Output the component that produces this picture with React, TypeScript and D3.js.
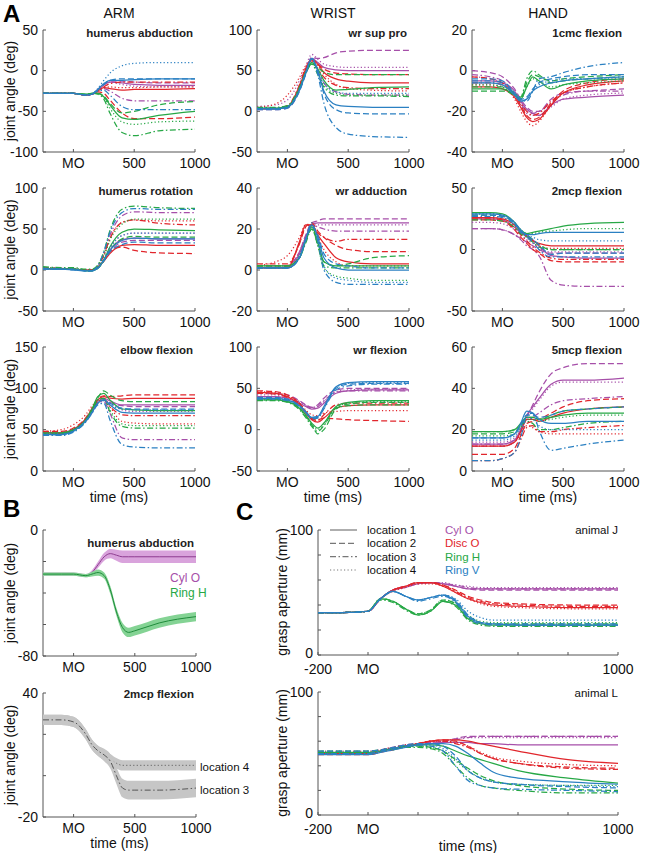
import React from "react";
import * as d3 from "d3";

const W = 648;
const H = 853;
const FONT = "'Liberation Sans', Arial, Helvetica, sans-serif";

// ---------- categories / styles ----------
const OBJECTS = ["Cyl O", "Disc O", "Ring H", "Ring V"];
const OBJ_COLORS = ["#a64fa9", "#e1262c", "#27a846", "#2b80c2"];
const LOCATIONS = ["location 1", "location 2", "location 3", "location 4"];
const LOC_DASH = ["", "6,3", "6,2.5,1.5,2.5", "1.2,2.3"];

// ---------- panel A data (16 traces: object x location) ----------
const T_A = [-250, -100, 0, 100, 150, 200, 250, 300, 400, 500, 700, 1000];

const HUM_ABD = [
  [-28, -28, -28, -30, -29, -24, -18, -14, -15, -17, -18, -18],
  [-28, -28, -28, -30, -29, -23, -17, -13, -13, -14, -15, -15],
  [-28, -28, -28, -30, -29, -25, -22, -25, -34, -37, -37, -37],
  [-28, -28, -28, -30, -29, -23, -17, -14, -17, -19, -20, -20],
  [-28, -28, -28, -30, -29, -25, -21, -22, -24, -23, -23, -22],
  [-28, -28, -28, -30, -29, -26, -28, -36, -52, -59, -59, -57],
  [-28, -28, -28, -30, -29, -25, -20, -16, -14, -14, -14, -14],
  [-28, -28, -28, -30, -29, -25, -21, -20, -21, -21, -20, -20],
  [-28, -28, -28, -29, -28, -28, -32, -42, -58, -60, -55, -50],
  [-28, -28, -28, -29, -28, -28, -31, -40, -52, -50, -42, -38],
  [-28, -28, -28, -29, -28, -29, -35, -52, -76, -80, -74, -72],
  [-28, -28, -28, -29, -28, -28, -33, -46, -63, -66, -63, -62],
  [-28, -28, -28, -30, -29, -23, -16, -12, -12, -11, -10, -10],
  [-28, -28, -28, -30, -29, -24, -17, -12, -10, -10, -10, -10],
  [-28, -28, -28, -30, -29, -25, -24, -30, -44, -48, -48, -48],
  [-28, -28, -28, -30, -29, -22, -12, -3, 6, 9, 10, 10],
];

const WR_SUP = [
  [3, 3, 5, 28, 48, 65, 60, 54, 51, 50, 50, 50],
  [2, 2, 4, 26, 47, 66, 65, 66, 72, 74, 75, 75],
  [4, 4, 6, 30, 50, 66, 50, 35, 24, 21, 20, 20],
  [6, 8, 14, 38, 55, 70, 64, 58, 55, 54, 54, 54],
  [3, 3, 5, 30, 52, 64, 58, 48, 40, 37, 35, 35],
  [3, 3, 6, 32, 52, 62, 58, 52, 47, 46, 45, 45],
  [4, 4, 7, 33, 53, 62, 52, 42, 32, 29, 28, 28],
  [5, 9, 20, 42, 56, 63, 56, 46, 33, 28, 26, 25],
  [4, 4, 6, 28, 48, 60, 52, 38, 26, 27, 29, 30],
  [3, 3, 5, 27, 46, 58, 54, 48, 45, 45, 45, 45],
  [5, 5, 7, 30, 48, 58, 45, 30, 20, 19, 19, 18],
  [4, 4, 6, 28, 47, 60, 48, 32, 22, 20, 20, 20],
  [3, 3, 5, 26, 46, 65, 50, 25, 8, 6, 5, 5],
  [2, 2, 4, 25, 45, 64, 48, 22, 2, -2, -3, -3],
  [3, 3, 5, 27, 47, 66, 45, 10, -20, -28, -31, -32],
  [4, 4, 6, 28, 48, 64, 52, 35, 24, 22, 22, 22],
];

const CMC1 = [
  [-5, -5, -6, -10, -15, -19, -21, -22, -17, -14, -13, -12],
  [0, -1, -3, -9, -14, -18, -20, -20, -14, -11, -10, -9],
  [-2, -3, -5, -11, -16, -20, -21, -20, -16, -12, -10, -10],
  [-3, -4, -6, -12, -17, -21, -22, -22, -18, -14, -12, -11],
  [-8, -8, -9, -13, -18, -23, -25, -24, -17, -11, -7, -5],
  [-3, -4, -6, -12, -17, -22, -24, -23, -16, -10, -6, -4],
  [-6, -6, -7, -12, -16, -20, -22, -21, -15, -11, -8, -6],
  [-7, -7, -8, -14, -20, -25, -27, -25, -17, -11, -8, -6],
  [-9, -9, -9, -12, -14, -8, -3, -5, -9, -7, -5, -4],
  [-10, -10, -10, -12, -14, -6, -2, -3, -5, -4, -3, -2],
  [-8, -8, -8, -11, -13, -4, 0, -2, -6, -5, -4, -3],
  [-7, -7, -8, -12, -14, -8, -4, -5, -8, -7, -6, -5],
  [-6, -6, -7, -12, -15, -14, -10, -8, -6, -5, -4, -3],
  [-4, -4, -5, -11, -14, -13, -9, -6, -4, -3, -2, -2],
  [-5, -5, -6, -11, -14, -15, -10, -4, -3, -1, 2, 4],
  [-6, -6, -7, -12, -15, -14, -10, -7, -5, -4, -4, -4],
];

const HUM_ROT = [
  [2, 1, 1, 0, 0, 3, 12, 24, 37, 39, 38, 38],
  [3, 2, 1, 0, 0, 3, 11, 22, 34, 36, 36, 36],
  [3, 2, 1, 0, 0, 5, 20, 42, 66, 71, 70, 70],
  [2, 1, 1, 0, 0, 3, 13, 27, 42, 45, 45, 45],
  [2, 1, 1, 0, 0, 3, 11, 20, 30, 31, 30, 30],
  [2, 1, 1, 0, 0, 3, 11, 22, 28, 24, 21, 20],
  [2, 1, 1, 0, 0, 4, 18, 38, 58, 61, 57, 55],
  [3, 2, 1, 0, 0, 4, 18, 38, 58, 61, 60, 60],
  [2, 1, 1, -1, -1, 2, 12, 28, 46, 50, 49, 48],
  [2, 1, 1, -1, -1, 2, 11, 24, 38, 41, 40, 40],
  [4, 3, 3, 1, 1, 6, 22, 48, 74, 78, 76, 75],
  [3, 2, 2, 0, 0, 4, 16, 36, 56, 62, 62, 62],
  [1, 1, 0, -1, -1, 2, 12, 24, 36, 39, 38, 38],
  [1, 1, 0, -1, -1, 2, 11, 22, 31, 34, 33, 33],
  [2, 1, 1, -1, -1, 5, 22, 46, 70, 75, 74, 74],
  [2, 1, 1, -1, -1, 3, 13, 27, 42, 45, 45, 45],
];

const WR_ADD = [
  [1, 1, 1, 8, 16, 22, 23, 23, 23, 23, 23, 23],
  [1, 1, 2, 9, 17, 23, 24, 25, 25, 25, 25, 25],
  [2, 2, 2, 9, 16, 22, 21, 20, 19, 19, 19, 19],
  [1, 1, 1, 8, 16, 22, 22, 22, 22, 22, 22, 22],
  [1, 1, 1, 14, 22, 22, 17, 13, 6, 4, 3, 3],
  [2, 2, 2, 13, 21, 23, 19, 16, 12, 10, 9, 9],
  [3, 3, 3, 13, 21, 22, 18, 16, 14, 15, 15, 15],
  [2, 4, 7, 16, 22, 22, 16, 10, 4, 2, 2, 2],
  [2, 2, 2, 6, 14, 21, 14, 4, 2, 2, 2, 2],
  [2, 2, 2, 6, 14, 20, 13, 4, 2, 3, 6, 7],
  [1, 1, 1, 6, 13, 20, 12, 2, 1, 1, 1, 1],
  [2, 2, 2, 7, 15, 21, 12, 1, -3, -4, -5, -5],
  [1, 1, 1, 6, 15, 22, 16, 6, 1, 0, 0, 0],
  [1, 1, 1, 6, 14, 21, 17, 8, 3, 2, 1, 1],
  [1, 1, 1, 6, 15, 23, 14, 0, -6, -7, -7, -7],
  [1, 1, 1, 7, 15, 22, 14, 2, -4, -5, -6, -6],
];

const MCP2 = [
  [25, 25, 24, 18, 14, 11, 8, 3, -5, -6, -7, -7],
  [17, 17, 16, 12, 9, 6, 3, 0, -3, -3, -3, -3],
  [17, 17, 16, 12, 8, 3, 0, -5, -25, -29, -30, -30],
  [22, 22, 21, 16, 12, 8, 5, 1, -2, -2, -2, -2],
  [26, 26, 25, 20, 15, 11, 7, 5, 3, 3, 3, 3],
  [24, 24, 23, 16, 10, 5, 0, -3, -9, -10, -10, -10],
  [25, 25, 24, 17, 12, 7, 2, -2, -7, -8, -8, -8],
  [26, 26, 25, 19, 14, 10, 6, 3, 1, 1, 1, 1],
  [30, 30, 29, 22, 16, 13, 14, 15, 17, 19, 21, 22],
  [28, 28, 27, 21, 15, 12, 8, 4, 0, 0, 0, 0],
  [24, 24, 23, 18, 13, 10, 6, 2, 0, 0, 0, 0],
  [29, 29, 28, 22, 16, 13, 13, 14, 15, 16, 17, 17],
  [29, 29, 28, 22, 16, 12, 12, 13, 14, 14, 14, 14],
  [28, 28, 27, 21, 15, 11, 8, 4, -4, -3, -3, -3],
  [27, 27, 26, 20, 14, 10, 6, 0, -6, -6, -6, -6],
  [29, 29, 28, 22, 16, 12, 10, 8, 7, 7, 7, 7],
];

const ELBOW = [
  [46, 46, 50, 62, 72, 84, 88, 85, 80, 80, 80, 80],
  [45, 45, 49, 60, 70, 82, 86, 83, 79, 78, 78, 78],
  [46, 46, 50, 62, 72, 83, 84, 70, 40, 38, 38, 38],
  [47, 47, 51, 62, 72, 83, 86, 82, 74, 72, 72, 72],
  [46, 46, 50, 63, 74, 86, 90, 88, 87, 88, 88, 88],
  [48, 48, 52, 64, 75, 87, 91, 90, 91, 92, 92, 92],
  [45, 45, 49, 61, 72, 84, 86, 78, 68, 67, 67, 67],
  [48, 50, 56, 68, 78, 86, 88, 78, 60, 58, 57, 57],
  [46, 46, 50, 62, 74, 90, 94, 86, 75, 74, 73, 73],
  [45, 45, 49, 61, 73, 88, 97, 92, 85, 84, 84, 84],
  [44, 44, 48, 60, 72, 86, 88, 72, 54, 52, 52, 52],
  [45, 45, 49, 61, 72, 86, 88, 74, 57, 55, 55, 55],
  [44, 44, 48, 60, 70, 82, 86, 80, 71, 70, 70, 70],
  [44, 44, 48, 60, 70, 82, 86, 82, 76, 75, 75, 75],
  [43, 43, 47, 59, 69, 80, 82, 62, 32, 29, 28, 28],
  [45, 45, 49, 61, 71, 82, 85, 80, 75, 74, 74, 74],
];

const WR_FLX = [
  [40, 40, 38, 32, 28, 25, 26, 32, 44, 47, 48, 48],
  [44, 44, 42, 35, 30, 27, 30, 38, 48, 50, 50, 50],
  [40, 40, 38, 33, 29, 26, 28, 35, 45, 47, 47, 47],
  [42, 42, 40, 34, 30, 27, 28, 34, 46, 48, 49, 49],
  [45, 44, 40, 30, 20, 12, 9, 14, 26, 29, 30, 30],
  [47, 46, 42, 32, 22, 14, 12, 14, 13, 12, 11, 10],
  [44, 43, 39, 30, 21, 13, 11, 18, 30, 32, 32, 32],
  [46, 45, 41, 32, 24, 18, 17, 20, 22, 23, 23, 23],
  [36, 36, 34, 26, 18, 8, 2, 8, 28, 33, 35, 35],
  [37, 37, 35, 26, 17, 6, -5, 0, 25, 31, 33, 33],
  [35, 35, 33, 24, 15, 4, -2, 5, 26, 29, 30, 30],
  [36, 36, 34, 25, 16, 6, 0, 6, 27, 32, 34, 34],
  [38, 38, 36, 29, 22, 15, 16, 28, 52, 57, 58, 58],
  [39, 39, 37, 29, 22, 14, 15, 26, 50, 55, 56, 56],
  [37, 37, 35, 28, 21, 13, 14, 25, 48, 53, 55, 55],
  [38, 38, 36, 28, 21, 14, 15, 27, 51, 56, 57, 57],
];

const MCP5 = [
  [13, 13, 13, 15, 20, 27, 31, 35, 42, 44, 44, 45],
  [12, 12, 12, 14, 19, 26, 32, 38, 47, 50, 52, 52],
  [13, 13, 13, 15, 19, 25, 26, 28, 32, 34, 35, 36],
  [14, 14, 14, 16, 20, 26, 30, 34, 41, 43, 43, 43],
  [12, 12, 12, 14, 19, 25, 25, 24, 26, 28, 30, 31],
  [8, 8, 8, 11, 17, 23, 24, 25, 28, 31, 34, 35],
  [5, 5, 6, 9, 15, 21, 22, 19, 19, 20, 21, 22],
  [12, 12, 12, 14, 18, 22, 21, 19, 18, 18, 18, 18],
  [19, 19, 19, 20, 23, 26, 26, 25, 26, 27, 28, 28],
  [18, 18, 18, 19, 22, 26, 26, 25, 27, 29, 30, 31],
  [19, 19, 19, 20, 22, 24, 23, 20, 20, 21, 23, 24],
  [17, 17, 17, 18, 21, 25, 25, 24, 25, 26, 27, 27],
  [16, 16, 16, 18, 23, 29, 28, 25, 23, 23, 24, 24],
  [16, 16, 16, 18, 22, 27, 27, 26, 27, 29, 30, 31],
  [5, 5, 6, 9, 16, 27, 28, 20, 10, 11, 13, 15],
  [15, 15, 15, 17, 21, 26, 25, 22, 20, 20, 20, 20],
];

const A_TITLES = [
  ["humerus abduction", "wr sup pro", "1cmc flexion"],
  ["humerus rotation", "wr adduction", "2mcp flexion"],
  ["elbow flexion", "wr flexion", "5mcp flexion"],
];
const A_DATA = [
  [HUM_ABD, WR_SUP, CMC1],
  [HUM_ROT, WR_ADD, MCP2],
  [ELBOW, WR_FLX, MCP5],
];
const A_DOMAINS = [
  [[-100, 50], [-50, 100], [-40, 20]],
  [[-50, 100], [-20, 40], [-50, 50]],
  [[0, 150], [-50, 100], [0, 60]],
];
const A_YTICKS = [
  [[-100, -50, 0, 50], [-50, 0, 50, 100], [-40, -20, 0, 20]],
  [[-50, 0, 50, 100], [-20, 0, 20, 40], [-50, 0, 50]],
  [[0, 50, 100, 150], [-50, 0, 50, 100], [0, 20, 40, 60]],
];
const A_COLUMNS = ["ARM", "WRIST", "HAND"];
const A_XTICKS = [0, 500, 1000];

// ---------- panel B data (mean +/- band) ----------
const T_B = [-250, -100, 0, 100, 150, 200, 250, 300, 350, 400, 450, 500, 700, 1000];
const B1_CYL_MEAN = [-28, -28, -28, -29, -27, -22, -17, -15, -16, -17, -17, -17, -17, -17];
const B1_CYL_HW = [1, 1, 1, 1, 1.5, 2, 2.5, 3, 3.5, 4, 4, 4, 4, 4];
const B1_RING_MEAN = [-28, -28, -28, -29, -28, -27, -29, -38, -52, -62, -65, -64, -59, -55];
const B1_RING_HW = [1, 1, 1, 1, 1.5, 2, 2, 2.5, 2.5, 3, 3, 3, 3, 3];
const B2_LOC4_MEAN = [27, 27, 26, 20, 15, 12, 10, 8, 6, 5, 5, 5, 5, 5];
const B2_LOC4_HW = [2.5, 2.5, 2.5, 2.5, 2.5, 2.5, 2.5, 2.5, 2.5, 2.5, 2.5, 2.5, 2.5, 2.5];
const B2_LOC3_MEAN = [27, 27, 26, 20, 15, 12, 10, 7, 0, -6, -7, -7, -7, -6];
const B2_LOC3_HW = [2.5, 2.5, 2.5, 2.5, 2.5, 2.5, 3, 3.5, 4, 4.5, 4.5, 4.5, 4.5, 4.5];

// ---------- panel C data (grasp aperture) ----------
const T_C = [-200, -100, 0, 50, 100, 150, 200, 250, 300, 350, 400, 450, 500, 600, 800, 1000];
const APERTURE_J = [
  [34, 34, 35, 45, 52, 54, 57, 58, 57, 55, 53, 53, 53, 53, 53, 53],
  [34, 34, 35, 45, 52, 55, 57, 58, 57, 55, 53, 52, 52, 52, 52, 52],
  [34, 34, 35, 45, 52, 54, 57, 58, 57, 56, 54, 53, 53, 53, 53, 53],
  [34, 34, 35, 45, 52, 55, 58, 58, 58, 56, 55, 54, 54, 54, 54, 54],
  [34, 34, 35, 45, 52, 55, 58, 58, 55, 50, 45, 42, 40, 39, 38, 38],
  [34, 34, 35, 45, 52, 55, 58, 58, 56, 52, 47, 44, 42, 41, 40, 40],
  [34, 34, 35, 45, 52, 55, 58, 58, 56, 51, 46, 43, 41, 40, 39, 39],
  [34, 34, 35, 45, 51, 54, 57, 57, 55, 50, 45, 41, 39, 38, 37, 37],
  [34, 34, 35, 45, 43, 37, 32, 35, 43, 40, 29, 25, 24, 24, 24, 24],
  [34, 34, 35, 45, 43, 37, 33, 36, 44, 41, 30, 26, 25, 25, 25, 25],
  [34, 34, 35, 44, 42, 36, 32, 35, 43, 39, 28, 24, 23, 23, 23, 23],
  [34, 34, 35, 45, 43, 37, 33, 36, 44, 42, 32, 27, 26, 26, 26, 26],
  [34, 34, 35, 45, 51, 47, 44, 46, 48, 43, 31, 26, 25, 24, 24, 24],
  [34, 34, 35, 45, 51, 47, 44, 46, 48, 44, 32, 26, 24, 24, 24, 24],
  [34, 34, 35, 45, 51, 47, 43, 45, 47, 42, 30, 25, 25, 25, 25, 25],
  [34, 34, 35, 45, 51, 47, 44, 46, 48, 45, 35, 30, 28, 28, 28, 28],
];
const APERTURE_L = [
  [50, 50, 50, 52, 54, 56, 57, 58, 59, 59, 59, 58, 58, 57, 57, 57],
  [51, 51, 51, 53, 55, 57, 58, 59, 60, 62, 64, 64, 64, 64, 64, 64],
  [50, 50, 50, 52, 54, 56, 57, 58, 59, 61, 63, 64, 64, 64, 64, 64],
  [52, 52, 52, 53, 55, 57, 58, 59, 60, 62, 63, 63, 63, 63, 63, 63],
  [50, 50, 50, 52, 54, 56, 58, 60, 61, 61, 60, 58, 56, 52, 45, 42],
  [49, 49, 49, 51, 53, 56, 58, 60, 61, 60, 56, 50, 46, 42, 39, 38],
  [50, 50, 50, 52, 54, 56, 58, 60, 60, 58, 55, 50, 46, 42, 38, 37],
  [51, 51, 51, 53, 55, 57, 58, 60, 60, 59, 56, 51, 47, 44, 41, 40],
  [51, 51, 51, 52, 54, 56, 57, 57, 56, 52, 48, 45, 42, 36, 30, 26],
  [52, 52, 52, 53, 54, 56, 56, 55, 52, 45, 38, 32, 28, 24, 21, 20],
  [50, 50, 50, 52, 53, 55, 55, 54, 50, 40, 30, 24, 22, 20, 18, 18],
  [51, 51, 51, 52, 54, 55, 56, 55, 52, 44, 36, 30, 27, 25, 24, 24],
  [49, 49, 49, 51, 53, 55, 57, 58, 58, 56, 50, 42, 35, 30, 27, 25],
  [52, 52, 52, 53, 55, 57, 58, 58, 56, 48, 36, 30, 27, 25, 23, 22],
  [50, 50, 50, 52, 54, 56, 57, 56, 52, 40, 28, 24, 22, 21, 20, 19],
  [50, 50, 50, 52, 54, 56, 57, 57, 54, 46, 36, 30, 27, 25, 24, 23],
];
const C_XTICKS = [-200, 0, 200, 400, 600, 800, 1000];
const C_XLABELED = [-200, 0, 1000];
const C_YTICKS = [0, 20, 40, 60, 80, 100];

// ---------- helpers ----------
const AX = "#555";
const fmtX = (v: number) => (v === 0 ? "MO" : String(v));

type Scale = d3.ScaleLinear<number, number>;

function Axes(props: {
  xs: Scale;
  ys: Scale;
  xTicks: number[];
  xLabeled: number[];
  yTicks: number[];
  yLabeled: number[];
  xDy?: number;
  yDy?: number;
}) {
  const { xs, ys, xTicks, xLabeled, yTicks, yLabeled, xDy = 16, yDy = 4.5 } = props;
  const [x0, x1] = xs.range();
  const [yb, yt] = ys.range();
  return (
    <g>
      <line x1={x0} y1={yt} x2={x0} y2={yb} stroke={AX} strokeWidth={1} />
      <line x1={x0} y1={yb} x2={x1} y2={yb} stroke={AX} strokeWidth={1} />
      {yTicks.map((v) => (
        <g key={"y" + v}>
          <line x1={x0} x2={x0 + 3} y1={ys(v)} y2={ys(v)} stroke={AX} />
          {yLabeled.includes(v) && (
            <text x={x0 - 5} y={ys(v) + (v === yTicks[0] ? yDy : 4.5)} textAnchor="end" fontSize={14} fill="#111">
              {String(v)}
            </text>
          )}
        </g>
      ))}
      {xTicks.map((v) => (
        <g key={"x" + v}>
          <line x1={xs(v)} x2={xs(v)} y1={yb} y2={yb - 3} stroke={AX} />
          {xLabeled.includes(v) && (
            <text x={xs(v)} y={yb + xDy} textAnchor="middle" fontSize={14} fill="#111">
              {fmtX(v)}
            </text>
          )}
        </g>
      ))}
    </g>
  );
}

function Trace({ t, v, xs, ys, color, dash, width = 1.25 }: any) {
  const gen = d3
    .line<number>()
    .x((_, i) => xs(t[i]))
    .y((d) => ys(d))
    .curve(d3.curveMonotoneX);
  return (
    <path
      d={gen(v) || ""}
      fill="none"
      stroke={color}
      strokeWidth={width}
      strokeDasharray={dash || undefined}
      strokeLinejoin="round"
    />
  );
}

function Band({ t, mean, hw, xs, ys, fill, stroke, dash }: any) {
  const area = d3
    .area<number>()
    .x((_, i) => xs(t[i]))
    .y0((d, i) => ys(d - hw[i]))
    .y1((d, i) => ys(d + hw[i]))
    .curve(d3.curveMonotoneX);
  const gen = d3
    .line<number>()
    .x((_, i) => xs(t[i]))
    .y((d) => ys(d))
    .curve(d3.curveMonotoneX);
  return (
    <g>
      <path d={area(mean) || ""} fill={fill} stroke="none" />
      <path d={gen(mean) || ""} fill="none" stroke={stroke} strokeWidth={1} strokeDasharray={dash || undefined} />
    </g>
  );
}

const COL_X = [
  [43, 195],
  [257, 409],
  [472, 624],
];
const ROW_Y = [
  [30, 152],
  [188, 311],
  [347, 471],
];

function YLabel({ x, y, text }: { x: number; y: number; text: string }) {
  return (
    <text transform={`translate(${x},${y}) rotate(-90)`} textAnchor="middle" fontSize={14} fill="#111">
      {text}
    </text>
  );
}

export default function App() {
  // ---- panel A ----
  const aPanels: React.ReactNode[] = [];
  for (let r = 0; r < 3; r++) {
    for (let c = 0; c < 3; c++) {
      const xs = d3.scaleLinear().domain([-250, 1000]).range(COL_X[c]);
      const ys = d3.scaleLinear().domain(A_DOMAINS[r][c]).range([ROW_Y[r][1], ROW_Y[r][0]]);
      const data = A_DATA[r][c];
      aPanels.push(
        <g key={`a${r}${c}`}>
          <Axes
            xs={xs}
            ys={ys}
            xTicks={A_XTICKS}
            xLabeled={A_XTICKS}
            yTicks={A_YTICKS[r][c]}
            yLabeled={A_YTICKS[r][c]}
          />
          {data.map((v, k) => (
            <Trace
              key={k}
              t={T_A}
              v={v}
              xs={xs}
              ys={ys}
              color={OBJ_COLORS[Math.floor(k / 4)]}
              dash={LOC_DASH[k % 4]}
            />
          ))}
          <text
            x={COL_X[c][1] - 2}
            y={ROW_Y[r][0] + 7}
            textAnchor="end"
            fontSize={11.5}
            fontWeight="bold"
            fill="#222"
          >
            {A_TITLES[r][c]}
          </text>
          {r === 2 && (
            <text x={(COL_X[c][0] + COL_X[c][1]) / 2} y={502} textAnchor="middle" fontSize={14} fill="#111">
              time (ms)
            </text>
          )}
        </g>
      );
    }
  }

  // ---- panel B ----
  const bx = d3.scaleLinear().domain([-250, 1000]).range([43, 196]);
  const by1 = d3.scaleLinear().domain([-80, 0]).range([656, 530]);
  const by2 = d3.scaleLinear().domain([-20, 40]).range([817, 693]);

  // ---- panel C ----
  const cx = d3.scaleLinear().domain([-200, 1000]).range([318, 618]);
  const cy1 = d3.scaleLinear().domain([0, 100]).range([655, 530]);
  const cy2 = d3.scaleLinear().domain([0, 100]).range([815, 692]);

  const legendY = [530, 543.3, 556.7, 570];

  return (
    <svg
      width={W}
      height={H}
      viewBox={`0 0 ${W} ${H}`}
      style={{ position: "absolute", left: 0, top: 0, background: "#fff", fontFamily: FONT }}
      fontFamily={FONT}
    >
      <rect x={0} y={0} width={W} height={H} fill="#fff" />
      {/* panel letters */}
      <text x={3} y={22} fontSize={24} fontWeight="bold" fill="#000">A</text>
      <text x={3} y={517} fontSize={24} fontWeight="bold" fill="#000">B</text>
      <text x={236} y={520} fontSize={24} fontWeight="bold" fill="#000">C</text>

      {/* column titles */}
      {A_COLUMNS.map((name, c) => (
        <text key={name} x={(COL_X[c][0] + COL_X[c][1]) / 2} y={18} textAnchor="middle" fontSize={14} fill="#111">
          {name}
        </text>
      ))}
      {ROW_Y.map((ry, r) => (
        <YLabel key={r} x={15} y={(ry[0] + ry[1]) / 2} text="joint angle (deg)" />
      ))}
      {aPanels}

      {/* ---- B top ---- */}
      <Axes xs={bx} ys={by1} xTicks={A_XTICKS} xLabeled={A_XTICKS} yTicks={[-80, -60, -40, -20, 0]} yLabeled={[-80, 0]} />
      <Band t={T_B} mean={B1_CYL_MEAN} hw={B1_CYL_HW} xs={bx} ys={by1} fill="#d9a3dc" stroke="#8d3b8f" />
      <Band t={T_B} mean={B1_RING_MEAN} hw={B1_RING_HW} xs={bx} ys={by1} fill="#84d394" stroke="#1f8c3b" />
      <text x={194} y={547} textAnchor="end" fontSize={11.5} fontWeight="bold" fill="#222">humerus abduction</text>
      <text x={170} y={582} fontSize={12} fill={OBJ_COLORS[0]}>{OBJECTS[0]}</text>
      <text x={170} y={597} fontSize={12} fill={OBJ_COLORS[2]}>{OBJECTS[2]}</text>
      <YLabel x={15} y={593} text="joint angle (deg)" />

      {/* ---- B bottom ---- */}
      <Axes xs={bx} ys={by2} xTicks={A_XTICKS} xLabeled={A_XTICKS} yTicks={[-20, 0, 20, 40]} yLabeled={[-20, 40]} />
      <Band t={T_B} mean={B2_LOC4_MEAN} hw={B2_LOC4_HW} xs={bx} ys={by2} fill="#c6c6c6" stroke="#666" dash={LOC_DASH[3]} />
      <Band t={T_B} mean={B2_LOC3_MEAN} hw={B2_LOC3_HW} xs={bx} ys={by2} fill="#c6c6c6" stroke="#555" dash={LOC_DASH[2]} />
      <text x={194} y={698} textAnchor="end" fontSize={11.5} fontWeight="bold" fill="#222">2mcp flexion</text>
      <text x={200} y={771} fontSize={11.5} fill="#111">{LOCATIONS[3]}</text>
      <text x={200} y={794} fontSize={11.5} fill="#111">{LOCATIONS[2]}</text>
      <YLabel x={15} y={755} text="joint angle (deg)" />
      <text x={119.5} y={848} textAnchor="middle" fontSize={14} fill="#111">time (ms)</text>

      {/* ---- C top ---- */}
      <Axes xs={cx} ys={cy1} xTicks={C_XTICKS} xLabeled={C_XLABELED} yTicks={C_YTICKS} yLabeled={[0, 100]} xDy={19} yDy={2.5} />
      {APERTURE_J.map((v, k) => (
        <Trace key={k} t={T_C} v={v} xs={cx} ys={cy1} color={OBJ_COLORS[Math.floor(k / 4)]} dash={LOC_DASH[k % 4]} />
      ))}
      <text x={618} y={534} textAnchor="end" fontSize={11.5} fill="#111">animal J</text>
      {LOCATIONS.map((l, i) => (
        <g key={l}>
          <line x1={330} x2={357} y1={legendY[i]} y2={legendY[i]} stroke="#777" strokeWidth={1.2} strokeDasharray={LOC_DASH[i] || undefined} />
          <text x={367} y={legendY[i] + 4} fontSize={11.5} fill="#111">{l}</text>
          <text x={445} y={legendY[i] + 4} fontSize={11.5} fill={OBJ_COLORS[i]}>{OBJECTS[i]}</text>
        </g>
      ))}
      <YLabel x={287} y={592} text="grasp aperture (mm)" />

      {/* ---- C bottom ---- */}
      <Axes xs={cx} ys={cy2} xTicks={C_XTICKS} xLabeled={C_XLABELED} yTicks={C_YTICKS} yLabeled={[0, 100]} xDy={19} yDy={2.5} />
      {APERTURE_L.map((v, k) => (
        <Trace key={k} t={T_C} v={v} xs={cx} ys={cy2} color={OBJ_COLORS[Math.floor(k / 4)]} dash={LOC_DASH[k % 4]} />
      ))}
      <text x={618} y={697} textAnchor="end" fontSize={11.5} fill="#111">animal L</text>
      <YLabel x={287} y={753} text="grasp aperture (mm)" />
      <text x={468} y={851} textAnchor="middle" fontSize={14} fill="#111">time (ms)</text>
    </svg>
  );
}
